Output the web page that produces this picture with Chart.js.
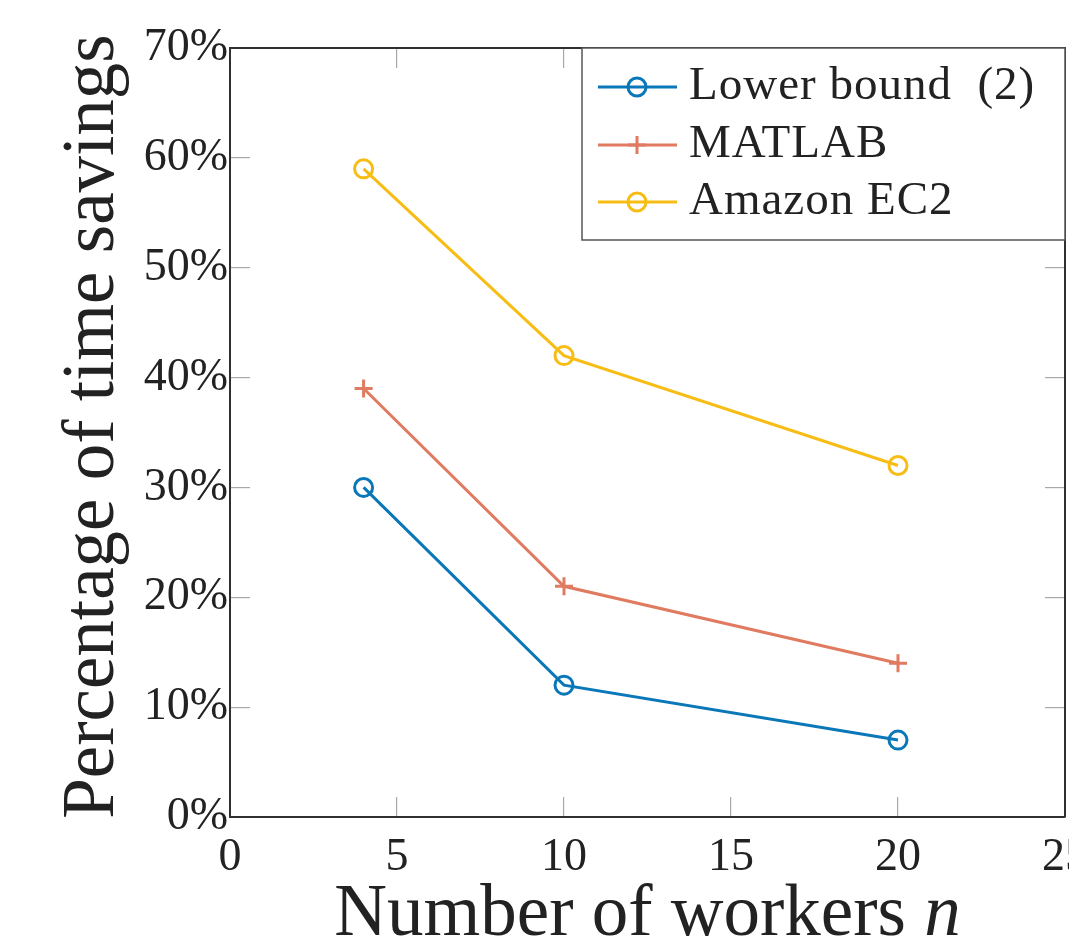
<!DOCTYPE html>
<html>
<head>
<meta charset="utf-8">
<script src="https://cdn.jsdelivr.net/npm/chart.js@4.4.1/dist/chart.umd.min.js"></script>
<style>
html,body{margin:0;padding:0;background:#fff;}
canvas{display:block;}
</style>
</head>
<body>
<canvas id="chart" width="1069" height="942"></canvas>
<script>
// data
const workers = [4, 10, 20];
const lowerBound = [30, 12, 7];
const matlab = [39, 21, 14];
const amazon = [59, 42, 32];
const seriesNames = ["Lower bound  (2)", "MATLAB", "Amazon EC2"];
const xRange = [0, 25];
const xStep = 5;
const yRange = [0, 70];
const yStep = 10;

const FONT = "'Liberation Serif', 'Times New Roman', serif";
const TEXT = "#222";

function points(ys){
return workers.map((x,i)=>({x:x, y:ys[i]}));
}

function ds(label, ys, color, style){
return {
label: label,
data: points(ys),
borderColor: color,
backgroundColor: color,
borderWidth: 3,
tension: 0,
pointStyle: style,
pointRadius: 9,
pointHoverRadius: 9,
pointBorderWidth: 3,
pointBorderColor: color,
pointBackgroundColor: "rgba(0,0,0,0)"
};
}

const tickGrid = {
drawOnChartArea: false,
drawTicks: true,
tickLength: -20,
color: "#a8a8a8",
lineWidth: 1.2
};
const frame = {color: "#303030", width: 2};

// fix axis box size and drop the automatic label padding
function fitTo(w, h){
return s=>{
if(w !== null) s.width = w;
if(h !== null) s.height = h;
s.paddingLeft = 0; s.paddingRight = 0;
s.paddingTop = 0; s.paddingBottom = 0;
};
}

// axis titles and the boxed legend
const decor = {
id: "decor",
afterDraw(chart){
const ctx = chart.ctx;
const area = chart.chartArea;
ctx.save();
ctx.fillStyle = TEXT;

// y title
ctx.save();
ctx.font = "73px " + FONT;
ctx.translate(113, (area.top + area.bottom)/2 - 6);
ctx.rotate(-Math.PI/2);
ctx.textAlign = "center";
ctx.textBaseline = "alphabetic";
ctx.fillText("Percentage of time savings", 0, 0);
ctx.restore();

// x title with italic n
const part1 = "Number of workers ";
ctx.font = "73px " + FONT;
const w1 = ctx.measureText(part1).width;
ctx.font = "italic 73px " + FONT;
const w2 = ctx.measureText("n").width;
let x0 = (area.left + area.right)/2 - (w1 + w2)/2;
ctx.textAlign = "left";
ctx.textBaseline = "alphabetic";
ctx.font = "73px " + FONT;
ctx.fillText(part1, x0, 935);
ctx.font = "italic 73px " + FONT;
ctx.fillText("n", x0 + w1, 935);

// legend
const bx = 582, by = area.top, bw = area.right - 582, bh = 192;
ctx.fillStyle = "#fff";
ctx.fillRect(bx, by, bw, bh);
ctx.strokeStyle = "#555";
ctx.lineWidth = 1.5;
ctx.strokeRect(bx, by, bw, bh);

const rows = [87, 145, 202];
chart.data.datasets.forEach((d,i)=>{
const y = rows[i];
ctx.strokeStyle = d.borderColor;
ctx.lineWidth = 3;
ctx.beginPath();
ctx.moveTo(598, y);
ctx.lineTo(677, y);
ctx.stroke();
ctx.beginPath();
if(d.pointStyle === "cross"){
ctx.moveTo(637-9, y); ctx.lineTo(637+9, y);
ctx.moveTo(637, y-9); ctx.lineTo(637, y+9);
}else{
ctx.arc(637, y, 9, 0, Math.PI*2);
}
ctx.stroke();
ctx.fillStyle = TEXT;
ctx.font = "47px " + FONT;
ctx.letterSpacing = "1px";
ctx.textBaseline = "middle";
ctx.fillText(d.label, 689, y);
ctx.letterSpacing = "0px";
});
ctx.restore();
}
};

new Chart(document.getElementById("chart"), {
type: "line",
data: {
datasets: [
ds(seriesNames[0], lowerBound, "#0a77b8", "circle"),
ds(seriesNames[1], matlab, "#e07a60", "cross"),
ds(seriesNames[2], amazon, "#f7bd14", "circle")
]
},
options: {
responsive: false,
animation: false,
events: [],
layout: {padding: {top: 48, right: 4, left: 0, bottom: 0}, autoPadding: false},
plugins: {legend: {display: false}, tooltip: {enabled: false}},
scales: {
x: {
type: "linear", position: "bottom", min: xRange[0], max: xRange[1],
ticks: {stepSize: xStep, padding: 33, color: TEXT, font: {family: FONT, size: 46}, maxRotation: 0, autoSkip: false},
grid: tickGrid, border: frame,
afterFit: fitTo(null, 125)
},
x2: {
type: "linear", position: "top", min: xRange[0], max: xRange[1],
ticks: {stepSize: xStep, display: false},
grid: tickGrid, border: frame,
afterFit: fitTo(null, 0)
},
y: {
type: "linear", position: "left", min: yRange[0], max: yRange[1],
ticks: {stepSize: yStep, padding: 22, color: TEXT, font: {family: FONT, size: 46}, callback: v=>v + "%"},
grid: tickGrid, border: frame,
afterFit: fitTo(230, null)
},
y2: {
type: "linear", position: "right", min: yRange[0], max: yRange[1],
ticks: {stepSize: yStep, display: false},
grid: tickGrid, border: frame,
afterFit: fitTo(0, null)
}
}
},
plugins: [decor]
});
</script>
</body>
</html>
